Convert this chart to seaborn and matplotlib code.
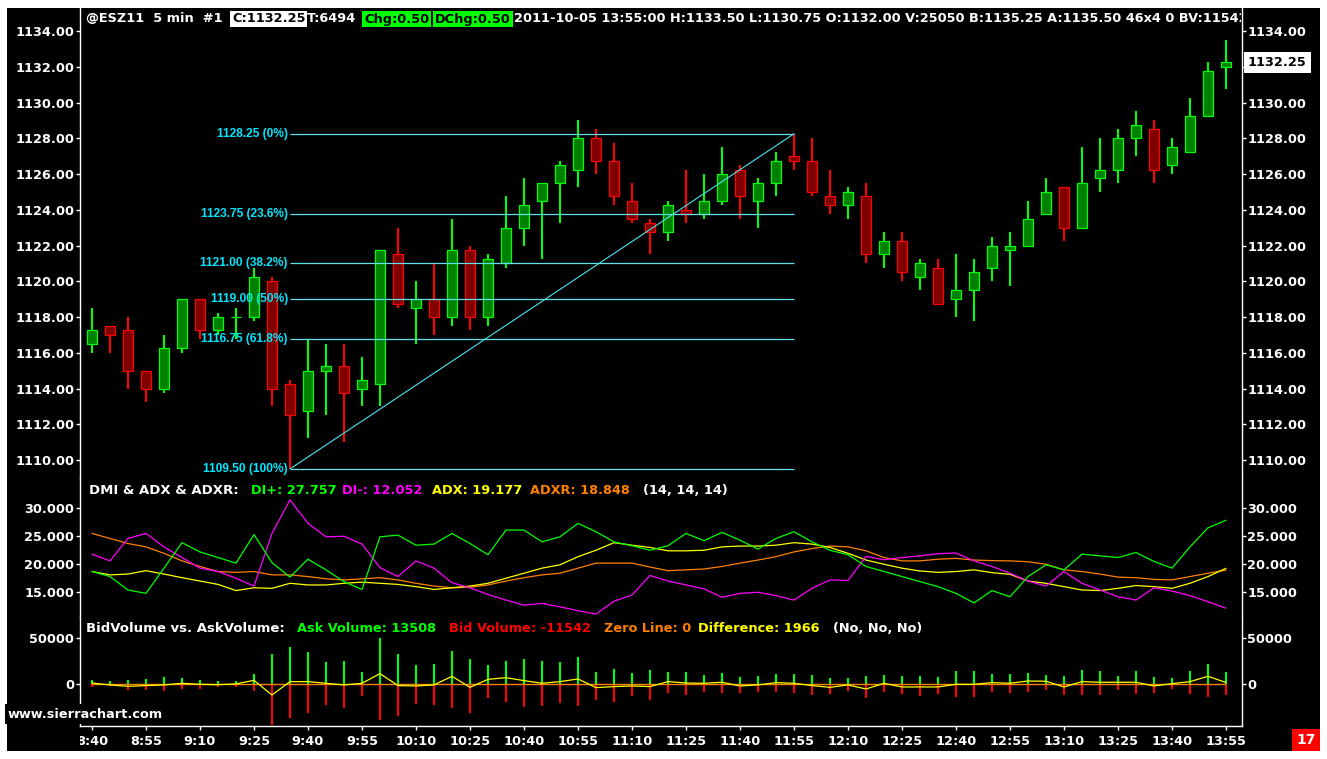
import numpy as np
import pandas as pd
import matplotlib
matplotlib.use("Agg")
import matplotlib.pyplot as plt
import matplotlib.font_manager as fm
import seaborn as sns
from matplotlib.patches import Rectangle
from matplotlib.transforms import Affine2D, Bbox, blended_transform_factory
from matplotlib.ticker import FixedLocator, FormatStrFormatter, NullLocator

# ---------------- data ----------------
opens = [1116.5, 1117.5, 1117.25, 1115.0, 1114.0, 1116.25, 1119.0, 1117.25, 1118.0, 1118.0,
         1120.0, 1114.25, 1112.75, 1115.0, 1115.25, 1114.0, 1114.25, 1121.5, 1118.5, 1119.0,
         1118.0, 1121.75, 1118.0, 1121.0, 1123.0, 1124.5, 1125.5, 1126.25, 1128.0, 1126.75,
         1124.5, 1123.25, 1122.75, 1124.0, 1123.75, 1124.5, 1126.25, 1124.5, 1125.5, 1127.0,
         1126.75, 1124.75, 1124.25, 1124.75, 1121.5, 1122.25, 1120.25, 1120.75, 1119.0, 1119.5,
         1120.75, 1121.75, 1122.0, 1123.75, 1125.25, 1123.0, 1125.75, 1126.25, 1128.0, 1128.5,
         1126.5, 1127.25, 1129.25, 1132.0]
highs = [1118.5, 1117.5, 1118.0, 1115.0, 1117.0, 1119.0, 1119.0, 1118.25, 1118.5, 1120.75,
         1120.25, 1114.5, 1116.75, 1116.5, 1116.5, 1115.75, 1121.75, 1123.0, 1120.0, 1121.0,
         1123.5, 1122.0, 1121.5, 1124.75, 1125.75, 1125.5, 1126.75, 1129.0, 1128.5, 1127.75,
         1125.5, 1123.5, 1124.5, 1126.25, 1126.0, 1127.5, 1126.5, 1125.75, 1127.25, 1128.25,
         1128.0, 1126.25, 1125.25, 1125.5, 1122.75, 1122.75, 1121.25, 1121.25, 1121.5, 1121.25,
         1122.5, 1122.75, 1124.5, 1125.75, 1125.25, 1127.5, 1128.0, 1128.5, 1129.5, 1129.0,
         1128.0, 1130.25, 1132.25, 1133.5]
lows = [1116.0, 1116.0, 1114.0, 1113.25, 1113.75, 1116.0, 1116.75, 1117.0, 1116.75, 1117.75,
        1113.0, 1109.5, 1111.25, 1112.5, 1111.0, 1113.0, 1113.0, 1118.5, 1116.5, 1117.0,
        1117.5, 1117.25, 1117.5, 1120.75, 1122.0, 1121.25, 1123.25, 1125.25, 1126.0, 1124.25,
        1123.25, 1121.5, 1122.25, 1123.25, 1123.5, 1124.25, 1123.5, 1123.0, 1124.75, 1126.25,
        1124.75, 1123.75, 1123.5, 1121.0, 1120.75, 1120.0, 1119.5, 1118.75, 1118.0, 1117.75,
        1120.0, 1119.75, 1122.0, 1123.75, 1122.25, 1123.0, 1125.0, 1125.5, 1127.0, 1125.5,
        1126.0, 1127.25, 1129.25, 1130.75]
closes = [1117.25, 1117.0, 1115.0, 1114.0, 1116.25, 1119.0, 1117.25, 1118.0, 1118.0, 1120.25,
          1114.0, 1112.5, 1115.0, 1115.25, 1113.75, 1114.5, 1121.75, 1118.75, 1119.0, 1118.0,
          1121.75, 1118.0, 1121.25, 1123.0, 1124.25, 1125.5, 1126.5, 1128.0, 1126.75, 1124.75,
          1123.5, 1122.75, 1124.25, 1123.75, 1124.5, 1126.0, 1124.75, 1125.5, 1126.75, 1126.75,
          1125.0, 1124.25, 1125.0, 1121.5, 1122.25, 1120.5, 1121.0, 1118.75, 1119.5, 1120.5,
          1122.0, 1122.0, 1123.5, 1125.0, 1123.0, 1125.5, 1126.25, 1128.0, 1128.75, 1126.25,
          1127.5, 1129.25, 1131.75, 1132.25]

di_plus = [18.6, 17.7, 15.3, 14.7, 19.2, 23.75, 22.1, 21.1, 20.1, 25.2, 20.2, 17.6, 20.8, 18.9, 16.8, 15.4,
           24.8, 25.1, 23.3, 23.5, 25.4, 23.6, 21.6, 26.0, 26.0, 23.9, 24.8, 27.2, 25.7, 23.9, 23.2, 22.4,
           23.2, 25.4, 24.1, 25.6, 24.2, 22.6, 24.5, 25.7, 23.9, 22.4, 21.6, 19.5, 18.6, 17.7, 16.8, 15.9,
           14.7, 13.0, 15.2, 14.1, 17.7, 19.8, 18.9, 21.7, 21.4, 21.1, 22.0, 20.4, 19.2, 23.0, 26.4, 27.757]
di_minus = [21.7, 20.5, 24.5, 25.4, 23.0, 21.1, 19.2, 18.6, 17.4, 16.0, 25.4, 31.4, 27.2, 24.8, 24.9, 23.5,
            19.3, 17.7, 20.5, 19.2, 16.6, 15.7, 14.5, 13.5, 12.6, 12.9, 12.3, 11.6, 11.0, 13.3, 14.4, 17.9,
            16.9, 16.2, 15.5, 14.0, 14.7, 14.9, 14.3, 13.5, 15.6, 17.1, 17.0, 21.3, 20.7, 21.1, 21.4, 21.8,
            21.9, 20.5, 19.5, 18.3, 16.9, 16.0, 18.6, 16.5, 15.3, 14.1, 13.5, 15.7, 15.1, 14.3, 13.2, 12.052]
adx = [18.6, 18.0, 18.15, 18.75, 18.15, 17.5, 16.9, 16.3, 15.2, 15.7, 15.6, 16.5, 16.2, 16.2, 16.5, 16.7,
       16.5, 16.3, 15.9, 15.4, 15.7, 16.0, 16.5, 17.4, 18.3, 19.2, 19.8, 21.25, 22.4, 23.75, 23.3, 22.9,
       22.3, 22.3, 22.4, 23.0, 23.15, 23.15, 23.3, 23.75, 23.5, 22.9, 21.85, 20.65, 19.9, 19.2, 18.7, 18.45,
       18.6, 18.9, 18.4, 18.1, 16.9, 16.5, 15.9, 15.3, 15.2, 15.6, 16.1, 15.9, 15.6, 16.5, 17.7, 19.177]
adxr = [25.4, 24.5, 23.6, 23.0, 21.85, 20.5, 19.5, 18.6, 18.45, 18.6, 18.0, 18.0, 17.7, 17.3, 17.1, 17.3,
        17.5, 17.1, 16.5, 16.0, 15.7, 15.8, 16.2, 16.9, 17.5, 18.0, 18.3, 19.2, 20.1, 20.1, 20.1, 19.4,
        18.75, 18.9, 19.05, 19.5, 20.1, 20.65, 21.25, 22.1, 22.7, 23.15, 23.0, 22.3, 21.1, 20.5, 20.5, 20.8,
        20.95, 20.65, 20.55, 20.5, 20.35, 19.9, 18.9, 18.6, 18.15, 17.6, 17.5, 17.2, 17.1, 17.7, 18.3, 18.848]

ask_volume = [4700, 3600, 4700, 5800, 8000, 6900, 4700, 3600, 3600, 10900, 33000, 40200, 35100, 24300, 25400, 13400,
              50400, 33000, 21000, 22100, 36200, 27500, 21000, 25400, 27500, 25400, 24300, 29700, 13400, 16700, 12300, 15600,
              13400, 13400, 10100, 12300, 8000, 9100, 10900, 10900, 10100, 6900, 6900, 9100, 10100, 9100, 9100, 8000,
              14500, 14500, 10900, 10900, 12300, 10100, 9100, 15600, 14500, 9100, 14500, 8000, 6900, 14500, 22100, 13508]
bid_volume = [2500, 1800, 6200, 6200, 7200, 4700, 4700, 2500, 2500, 7200, 44000, 36200, 30800, 22500, 25400, 12300,
              38800, 34000, 21400, 22500, 26100, 30800, 14500, 18800, 24300, 23200, 19900, 23200, 17400, 18800, 12300, 17400,
              9100, 11600, 8000, 9400, 9400, 8300, 8300, 9400, 11600, 10900, 6900, 14800, 8000, 10900, 12700, 10500,
              13400, 13400, 8300, 9400, 8300, 6200, 11600, 11600, 11600, 6200, 10500, 9400, 4700, 10500, 13400, 11542]
difference = [1400, -700, -2200, -1400, -700, 1100, 0, -400, 400, 4300, -11600, 2900, 2900, 1100, -700, 1100,
              11600, -1400, -1800, -700, 8700, -3300, 5400, 7200, 4000, 1100, 2900, 5800, -3600, -2500, -1800, -2500,
              2900, 1400, 1100, 2200, -1800, -700, 1800, 1100, -1400, -3300, -700, -5100, 1100, -2900, -2900, -2900,
              0, 0, 1800, 1100, 3600, 3300, -2900, 2900, 2200, 2200, 2200, -1800, 700, 2900, 8700, 1966]
zero_line = 0

tick_labels = ["8:40", "8:55", "9:10", "9:25", "9:40", "9:55", "10:10", "10:25", "10:40", "10:55", "11:10",
               "11:25", "11:40", "11:55", "12:10", "12:25", "12:40", "12:55", "13:10", "13:25", "13:40", "13:55"]

fib_start_bar, fib_end_bar = 11, 39
fib_low, fib_high = 1109.50, 1128.25
fib_levels = [1128.25, 1123.75, 1121.00, 1119.00, 1116.75, 1109.50]
fib_pcts = ["0%", "23.6%", "38.2%", "50%", "61.8%", "100%"]

price_ticks = [1110, 1112, 1114, 1116, 1118, 1120, 1122, 1124, 1126, 1128, 1130, 1132, 1134]
dmi_ticks = [15, 20, 25, 30]
vol_ticks = [0, 50000]

# ---------------- style ----------------
W, H = 1327, 759
sns.set_theme(style="dark", rc={"axes.facecolor": "black", "figure.facecolor": "white",
                                "axes.grid": False})
plt.rcParams["font.family"] = ["DejaVu Sans"]
plt.rcParams["font.weight"] = "bold"

GREEN, DGREEN = "#00FF00", "#008000"
RED, DRED = "#FF0000", "#800000"
MAG, YEL, ORG, CYAN = "#FF00FF", "#FFFF00", "#FF8000", "#00E6FF"
FS = 9.3
TS = 9.3

fig = plt.figure(figsize=(W / 100, H / 100), dpi=100)
fig.patch.set_facecolor("white")
pix = Affine2D().scale(1, -1).translate(0, H)   # pixel coords, origin top-left
fig.add_artist(Rectangle((7, 8), 1313, 743, transform=pix, facecolor="black",
                         edgecolor="none", zorder=-10))

XL, XR = 79.5, 1242.0


def add_ax(top, bottom):
    ax = fig.add_axes([XL / W, 1 - bottom / H, (XR - XL) / W, (bottom - top) / H])
    ax.set_facecolor("black")
    for s in ["top", "bottom"]:
        ax.spines[s].set_visible(False)
    for s in ["left", "right"]:
        ax.spines[s].set_color("white")
        ax.spines[s].set_linewidth(1.0)
    ax.set_xlim(-0.694, 63.889)
    ax.tick_params(axis="y", which="major", left=True, right=True, labelleft=True, labelright=True,
                   direction="out", length=2.6, width=1, colors="white", labelsize=FS, pad=1.2)
    ax.xaxis.set_major_locator(NullLocator())
    ax.set_xlabel("")
    ax.set_ylabel("")
    return ax


ax_p = add_ax(8, 478)
ax_d = add_ax(478, 617)
ax_v = add_ax(617, 725.7)

bars = np.arange(len(opens))
df = pd.DataFrame({"bar": bars, "open": opens, "high": highs, "low": lows, "close": closes})
up = df["close"] >= df["open"]

# ---------------- price panel ----------------
ax_p.vlines(df["bar"], df["low"], df["high"], colors=np.where(up, GREEN, RED), linewidth=1.5, zorder=2)
ax_p.bar(df["bar"], (df["close"] - df["open"]).abs(), bottom=df[["open", "close"]].min(axis=1),
         width=0.6, color=np.where(up, DGREEN, DRED), edgecolor=np.where(up, GREEN, RED),
         linewidth=0.9, zorder=3)
ax_p.set_ylim(1108.993, 1135.287)
ax_p.yaxis.set_major_locator(FixedLocator(price_ticks))
ax_p.yaxis.set_major_formatter(FormatStrFormatter("%.2f"))

names = {f.name for f in fm.fontManager.ttflist}
if "Liberation Sans Narrow" in names:
    fib_family, fib_size = ["Liberation Sans Narrow"], 10.6
else:
    fib_family, fib_size = ["Liberation Sans"], 8.6

ax_p.hlines(fib_levels, fib_start_bar, fib_end_bar, colors="#5FE3EE", linewidth=0.9, zorder=4)
ax_p.plot([fib_start_bar, fib_end_bar], [fib_low, fib_high], color="#4FE3EE", linewidth=0.8, zorder=4)
for lev, pct in zip(fib_levels, fib_pcts):
    ax_p.annotate(f"{lev:.2f} ({pct})", xy=(fib_start_bar, lev), xytext=(-2, 0),
                  textcoords="offset pixels", ha="right", va="center", color=CYAN,
                  family=fib_family, fontsize=fib_size, fontweight="bold", zorder=5)

# last-price marker on the right scale replaces the 1132.00 label there
last_tick = price_ticks.index(1132)
ax_p.yaxis.get_major_ticks()[last_tick].label2.set_visible(False)
ax_p.annotate(f"{closes[-1]:.2f}", xy=(1, closes[-1]), xycoords=("axes fraction", "data"),
              xytext=(6, 0), textcoords="offset pixels", ha="left", va="center", color="black",
              fontsize=FS, fontweight="bold", annotation_clip=False, zorder=10,
              bbox=dict(boxstyle="square,pad=0.3", fc="white", ec="none"))

# ---------------- DMI panel ----------------
dmi = pd.DataFrame({"bar": np.tile(bars, 4),
                    "value": di_plus + di_minus + adx + adxr,
                    "series": ["DI+"] * 64 + ["DI-"] * 64 + ["ADX"] * 64 + ["ADXR"] * 64})
sns.lineplot(data=dmi, x="bar", y="value", hue="series",
             palette={"DI+": GREEN, "DI-": MAG, "ADX": YEL, "ADXR": ORG},
             hue_order=["ADXR", "ADX", "DI-", "DI+"], legend=False, linewidth=0.9, ax=ax_d)
ax_d.set_ylim(10.48, 35.30)
ax_d.yaxis.set_major_locator(FixedLocator(dmi_ticks))
ax_d.yaxis.set_major_formatter(FormatStrFormatter("%.3f"))
ax_d.set_xlim(-0.694, 63.889)
ax_d.xaxis.set_major_locator(NullLocator())
ax_d.set_xlabel("")
ax_d.set_ylabel("")

# ---------------- volume panel ----------------
ax_v.vlines(bars, 0, ask_volume, colors=GREEN, linewidth=1.5, zorder=2)
ax_v.vlines(bars, -np.array(bid_volume), 0, colors=RED, linewidth=1.5, zorder=2)
ax_v.hlines(zero_line, bars[0], bars[-1], colors=ORG, linewidth=1.0, zorder=3)
sns.lineplot(x=bars, y=difference, color=YEL, linewidth=0.9, ax=ax_v, zorder=4)
ax_v.set_ylim(-45000, 73150)
ax_v.yaxis.set_major_locator(FixedLocator(vol_ticks))
ax_v.yaxis.set_major_formatter(FormatStrFormatter("%d"))
ax_v.set_xlim(-0.694, 63.889)
ax_v.set_xlabel("")
ax_v.set_ylabel("")
ax_v.spines["bottom"].set_visible(True)
ax_v.spines["bottom"].set_color("white")
ax_v.spines["bottom"].set_linewidth(1.0)
tick_pos = bars[::3]
ax_v.xaxis.set_major_locator(FixedLocator(tick_pos))
ax_v.tick_params(axis="x", which="major", bottom=True, labelbottom=False, direction="out",
                 length=2.6, width=1, colors="white")
xt = blended_transform_factory(ax_v.transData, ax_v.transAxes)
clip = Bbox.from_extents(XL, 0, W, H)
for p, lab in zip(tick_pos, tick_labels):
    t = ax_v.text(p, -0.147, lab, transform=xt, ha="center", va="center", color="white",
                  fontsize=FS, fontweight="bold")
    t.set_clip_box(clip)
    t.set_clip_on(True)

# ---------------- text overlays ----------------
def ptext(x, y, s, color="white", size=FS, **kw):
    return fig.text(x, y, s, transform=pix, color=color, fontsize=size, fontweight="bold",
                    ha="left", va="center", **kw)

hy = 19
ptext(86, hy, "@ESZ11  5 min  #1")
ptext(232, hy, f"C:{closes[-1]:.2f}", color="black",
      bbox=dict(boxstyle="square,pad=0.15", fc="white", ec="none"))
ptext(307, hy, "T:6494")
ptext(364, hy, "Chg:0.50", color="black", bbox=dict(boxstyle="square,pad=0.15", fc=GREEN, ec="none"))
ptext(435, hy, "DChg:0.50", color="black", bbox=dict(boxstyle="square,pad=0.15", fc=GREEN, ec="none"))
tt = ptext(514, hy, f"2011-10-05 13:55:00 H:{highs[-1]:.2f} L:{lows[-1]:.2f} O:{opens[-1]:.2f} "
                    f"V:25050 B:1135.25 A:1135.50 46x4 0 BV:{bid_volume[-1]} AV:{ask_volume[-1]}")
tt.set_clip_box(Bbox.from_extents(0, 0, XR - 1, H))
tt.set_clip_on(True)

ty = 490
ptext(89, ty, "DMI & ADX & ADXR:", size=9.5)
ptext(251, ty, f"DI+: {di_plus[-1]:.3f}", color=GREEN, size=TS)
ptext(342, ty, f"DI-: {di_minus[-1]:.3f}", color=MAG, size=TS)
ptext(432, ty, f"ADX: {adx[-1]:.3f}", color=YEL, size=TS)
ptext(530, ty, f"ADXR: {adxr[-1]:.3f}", color=ORG, size=TS)
ptext(643, ty, "(14, 14, 14)", size=TS)

vy = 628
ptext(86, vy, "BidVolume vs. AskVolume:", size=9.5)
ptext(297, vy, f"Ask Volume: {ask_volume[-1]}", color=GREEN, size=TS)
ptext(449, vy, f"Bid Volume: {-bid_volume[-1]}", color=RED, size=TS)
ptext(604, vy, f"Zero Line: {zero_line}", color=ORG, size=TS)
ptext(698, vy, f"Difference: {difference[-1]}", color=YEL, size=TS)
ptext(833, vy, "(No, No, No)", size=TS)

ptext(8, 714, "www.sierrachart.com", size=9.3,
      bbox=dict(boxstyle="square,pad=0.25", fc="black", ec="none"))
fig.text(1306, 740, "17", transform=pix, color="white", fontsize=10, fontweight="bold",
         ha="center", va="center", bbox=dict(boxstyle="square,pad=0.3", fc=RED, ec="none"))

fig.savefig("out.png", dpi=100, facecolor="white")
